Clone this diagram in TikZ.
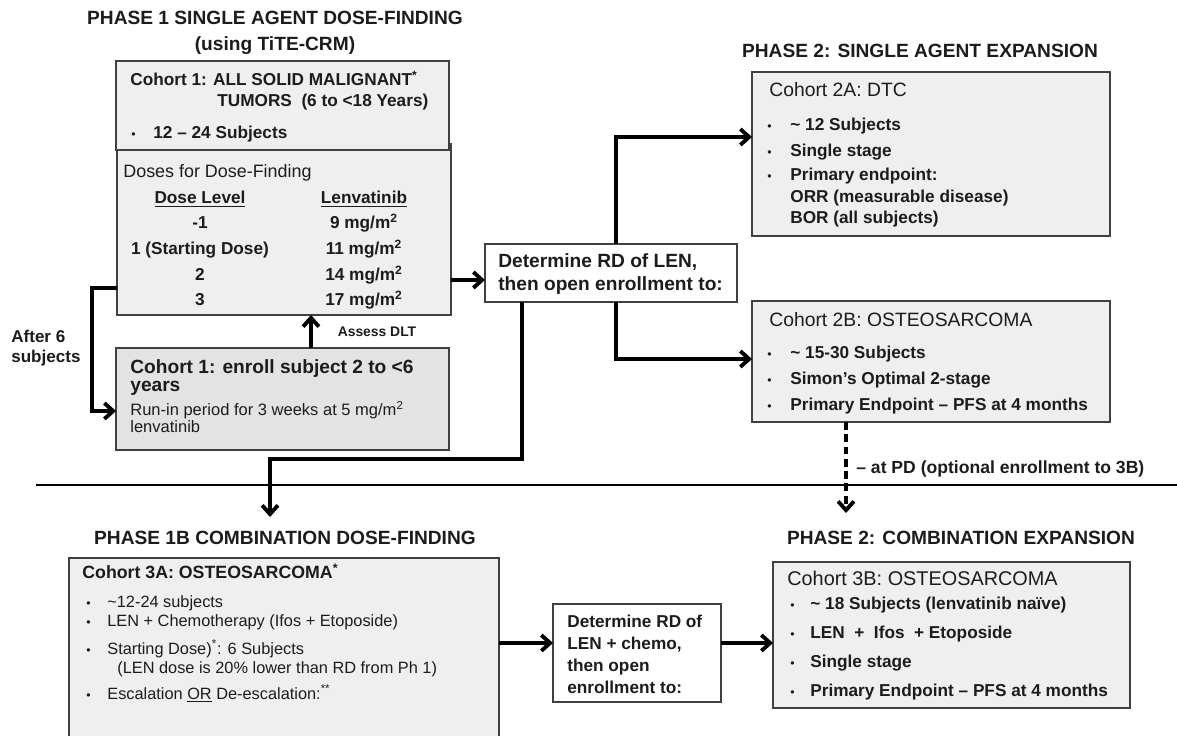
\documentclass[tikz,border=0pt]{standalone}
\usepackage{fontspec}
\setmainfont{Liberation Sans}
\usetikzlibrary{calc,arrows.meta}

\definecolor{boxfill}{HTML}{EFEFEF}
\definecolor{runfill}{HTML}{E3E3E3}
\definecolor{boxline}{HTML}{404040}
\definecolor{ink}{HTML}{1C1C1C}

\newcommand{\fsz}[1]{\fontsize{#1}{#1}\selectfont}

\begin{document}
\begin{tikzpicture}[x=0.02cm,y=-0.02cm,
    box/.style={draw=boxline,fill=boxfill,line width=0.9pt,inner sep=0pt,outer sep=0pt},
    conn/.style={-{Straight Barb[length=5pt,width=9pt]},line width=2.2pt,black},
    txt/.style={anchor=base west,inner sep=0pt,text=ink},
    ctxt/.style={anchor=base,inner sep=0pt,text=ink},
    ttl/.style={ctxt,font=\fsz{10.9}\bfseries},
    bul/.style={txt,font=\fsz{7}},
    itm/.style={txt,font=\fsz{9.8}\bfseries}]
    \useasboundingbox (0,0) rectangle (1177,736);

    % phase 1 single agent
    \node[ttl] (p1a) at (275,25) {PHASE 1 SINGLE AGENT DOSE-FINDING};
    \node[ttl] (p1b) at (275,51) {(using TiTE-CRM)};

    \node[box,minimum width=6.68cm,minimum height=3.42cm] (doses) at (284,229.5) {};
    \node[box,minimum width=6.66cm,minimum height=1.78cm] (coh1) at (282.5,105.5) {};
    \node[box,fill=runfill,minimum width=6.66cm,minimum height=2.04cm] (enroll) at (282.5,399) {};

    \node[txt,font=\fsz{9.8}\bfseries] (c1a) at (130,86) {Cohort 1: ALL SOLID MALIGNANT\textsuperscript{*}};
    \node[txt,font=\fsz{9.8}\bfseries] (c1b) at (217,107) {TUMORS\ \ (6 to <18 Years)};
    \node[bul] (c1c) at (131,139) {\textbullet};
    \node[itm] (c1d) at (153,139) {12 -- 24 Subjects};

    % dose table
    \node[txt,font=\fsz{10.2}] (dh) at (123,178) {Doses for Dose-Finding};
    \node[ctxt,font=\fsz{9.8}\bfseries] (lvh) at (200,204) {\underline{Dose Level}};
    \node[ctxt,font=\fsz{9.8}\bfseries] (mgh) at (364,204) {\underline{Lenvatinib}};
    \foreach \y/\lv/\mg in {229/-1/9,255/1 (Starting Dose)/11,281/2/14,306/3/17}{
        \node[ctxt,font=\fsz{9.8}\bfseries] (lv\y) at (200,\y) {\lv};
        \node[ctxt,font=\fsz{9.8}\bfseries] (mg\y) at (364,\y) {\mg\ mg/m\textsuperscript{2}};
    }

    % run-in cohort
    \node[txt,font=\fsz{10.9}\bfseries] (e1) at (130,374) {Cohort 1: enroll subject 2 to <6};
    \node[txt,font=\fsz{10.9}\bfseries] (e2) at (130,392) {years};
    \node[txt,font=\fsz{9.4}] (e3) at (130,416) {Run-in period for 3 weeks at 5 mg/m\textsuperscript{2}};
    \node[txt,font=\fsz{9.4}] (e4) at (130,433) {lenvatinib};

    \node[ctxt,font=\fsz{7.9}\bfseries] (dlt) at (377,337) {Assess DLT};
    \node[txt,font=\fsz{9.7}\bfseries] (af1) at (11,343) {After 6};
    \node[txt,font=\fsz{9.7}\bfseries] (af2) at (11,363) {subjects};

    % determine RD
    \node[box,fill=white,minimum width=5.04cm,minimum height=1.16cm] (det) at (611,273) {};
    \node[txt,font=\fsz{10.9}\bfseries] (d1) at (498,268) {Determine RD of LEN,};
    \node[txt,font=\fsz{10.9}\bfseries] (d2) at (498,291) {then open enrollment to:};

    % phase 2 single agent
    \node[ttl] (p2) at (920,58) {PHASE 2: SINGLE AGENT EXPANSION};
    \node[box,minimum width=7.16cm,minimum height=3.28cm] (boxA) at (931,154) {};
    \node[txt,font=\fsz{11}] (ah) at (769,97) {Cohort 2A: DTC};
    \foreach \y/\t in {131/{\textasciitilde\ 12 Subjects},157/Single stage,181/Primary endpoint:}{
        \node[bul] (ab\y) at (767,\y) {\textbullet};
        \node[itm] (a\y) at (790,\y) {\t};
    }
    \node[itm] (a203) at (790,203) {ORR (measurable disease)};
    \node[itm] (a224) at (790,224) {BOR (all subjects)};

    \node[box,minimum width=7.16cm,minimum height=2.42cm] (boxB) at (931,361.5) {};
    \node[txt,font=\fsz{11}] (bh) at (769,327) {Cohort 2B: OSTEOSARCOMA};
    \foreach \y/\t in {359/{\textasciitilde\ 15-30 Subjects},385/Simon's Optimal 2-stage,411/Primary Endpoint -- PFS at 4 months}{
        \node[bul] (bb\y) at (767,\y) {\textbullet};
        \node[itm] (b\y) at (790,\y) {\t};
    }
    \node[txt,font=\fsz{10}\bfseries] (pd) at (856,474) {-- at PD (optional enrollment to 3B)};

    % phase 1b combination
    \node[ttl] (p3) at (285,544) {PHASE 1B COMBINATION DOSE-FINDING};
    \node[box,minimum width=8.6cm,minimum height=3.74cm] (box3a) at (284,651.5) {};
    \node[txt,font=\fsz{10.1}\bfseries] (h3a) at (82,579) {Cohort 3A: OSTEOSARCOMA\textsuperscript{*}};
    \foreach \y/\t in {607/{\textasciitilde12-24 subjects},626/LEN + Chemotherapy (Ifos + Etoposide),654/{Starting Dose)\textsuperscript{*}: 6 Subjects},699/{Escalation \underline{OR} De-escalation:\textsuperscript{**}}}{
        \node[bul] (cb\y) at (86,\y) {\textbullet};
        \node[txt,font=\fsz{9.3}] (c\y) at (107,\y) {\t};
    }
    \node[txt,font=\fsz{9.3}] (c673) at (117,673) {(LEN dose is 20\% lower than RD from Ph 1)};

    \node[box,fill=white,minimum width=3.36cm,minimum height=1.96cm] (det2) at (637,653) {};
    \node[txt,font=\fsz{9.8}\bfseries] (f1) at (567,627) {Determine RD of};
    \node[txt,font=\fsz{9.8}\bfseries] (f2) at (567,649) {LEN + chemo,};
    \node[txt,font=\fsz{9.8}\bfseries] (f3) at (567,671) {then open};
    \node[txt,font=\fsz{9.8}\bfseries] (f4) at (567,693) {enrollment to:};

    % phase 2 combination
    \node[ttl] (p4) at (961,544) {PHASE 2: COMBINATION EXPANSION};
    \node[box,minimum width=7.14cm,minimum height=2.92cm] (box3b) at (951.5,635) {};
    \node[txt,font=\fsz{11.3}] (h3b) at (787,585) {Cohort 3B: OSTEOSARCOMA};
    \foreach \y/\t in {609/{\textasciitilde\ 18 Subjects (lenvatinib naïve)},638/{LEN\ \ +\ \ Ifos\ \ + Etoposide},667/Single stage,696/Primary Endpoint -- PFS at 4 months}{
        \node[bul] (db\y) at (790,\y) {\textbullet};
        \node[itm] (g\y) at (810,\y) {\t};
    }

    % connectors
    \coordinate (bk1) at (92,288);
    \coordinate (bk2) at (92,411);
    \draw[conn] (doses.west |- bk1) -- (bk1) -- (bk2) -- (enroll.west |- bk2);
    \coordinate (dl) at (311,0);
    \draw[conn] (enroll.north -| dl) -- (doses.south -| dl);
    \coordinate (r1) at (0,280);
    \draw[conn] (doses.east |- r1) -- (det.west |- r1);
    \coordinate (up) at (616,137);
    \draw[conn] (det.north -| up) |- (boxA.west |- up);
    \coordinate (dn) at (616,359);
    \draw[conn] (det.south -| dn) |- (boxB.west |- dn);
    \coordinate (lf) at (522,459);
    \coordinate (tip1) at (270,517);
    \draw[conn] (det.south -| lf) -- (lf) -| (tip1);
    \coordinate (tip2) at (846,513);
    \draw[conn,dash pattern=on 4.5pt off 2.5pt] (boxB.south -| tip2) -- (tip2);
    \coordinate (r3) at (0,643);
    \draw[conn] (box3a.east |- r3) -- (det2.west |- r3);
    \draw[conn] (det2.east |- r3) -- (box3b.west |- r3);

    % divider
    \draw[line width=1.1pt] (36,485) -- (1177,485);
\end{tikzpicture}
\end{document}
